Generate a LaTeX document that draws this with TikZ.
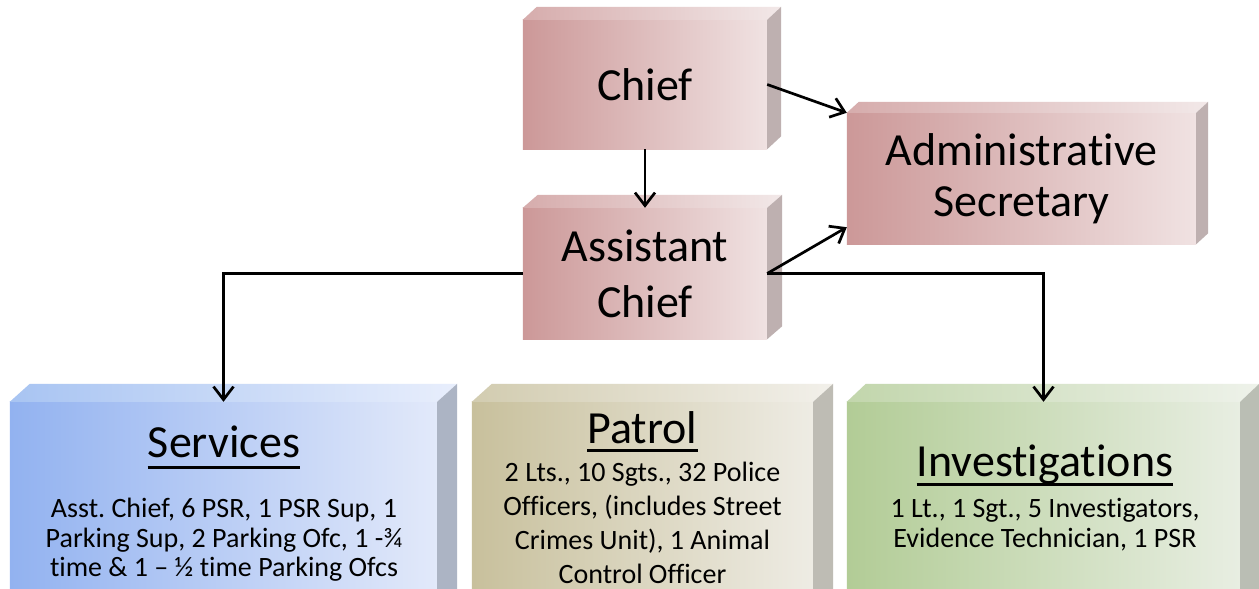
\documentclass[tikz,border=0pt]{standalone}
\usepackage{fontspec}
\setmainfont{Carlito}[Ligatures=NoCommon]
\usetikzlibrary{arrows.meta,backgrounds}
\frenchspacing

\definecolor{pinkL}{RGB}{204,152,152}
\definecolor{pinkR}{RGB}{240,226,226}
\definecolor{pinkS}{RGB}{190,176,176}
\definecolor{pinkTL}{RGB}{214,172,172}
\definecolor{pinkTR}{RGB}{242,232,232}
\definecolor{blueL}{RGB}{146,178,240}
\definecolor{blueR}{RGB}{226,233,250}
\definecolor{blueS}{RGB}{172,180,196}
\definecolor{blueTL}{RGB}{168,196,242}
\definecolor{blueTR}{RGB}{232,238,252}
\definecolor{tanL}{RGB}{200,192,156}
\definecolor{tanR}{RGB}{238,236,228}
\definecolor{tanS}{RGB}{190,188,180}
\definecolor{tanTL}{RGB}{210,204,176}
\definecolor{tanTR}{RGB}{242,240,234}
\definecolor{greenL}{RGB}{178,204,150}
\definecolor{greenR}{RGB}{232,238,226}
\definecolor{greenS}{RGB}{186,190,180}
\definecolor{greenTL}{RGB}{194,214,172}
\definecolor{greenTR}{RGB}{238,242,234}

% name, dx, dy, left, right, side, topleft, topright
\newcommand{\boxfaces}[8]{%
  \begin{pgfonlayer}{background}
    \shade[left color=#4, right color=#5] (#1.south west) rectangle (#1.north east);
    \shade[left color=#7, right color=#8] (#1.north west) -- ([shift={(#2,-#3)}]#1.north west)
      -- ([shift={(#2,-#3)}]#1.north east) -- (#1.north east) -- cycle;
    \fill[#6] (#1.north east) -- ([shift={(#2,-#3)}]#1.north east)
      -- ([shift={(#2,-#3)}]#1.south east) -- (#1.south east) -- cycle;
  \end{pgfonlayer}}

\tikzset{
  cube/.style={rectangle, inner sep=0pt, align=center},
  bigtext/.style={font=\fontsize{46}{56}\selectfont},
  conn/.style={line width=2.7pt, -{Straight Barb[length=13pt,width=20pt]}},
  ttl/.style={inner sep=0pt, anchor=base, font=\fontsize{46}{55}\selectfont},
  uline/.style={line width=3pt},
  bodytext/.style={inner sep=0pt, anchor=north, align=center}
}

\begin{document}
\begin{tikzpicture}[x=1pt, y=-1pt]
  \begin{pgfonlayer}{background}
    \fill[white] (0,0) rectangle (1259,589);
  \end{pgfonlayer}
  \useasboundingbox (0,0) rectangle (1259,589);

  % top boxes
  \node[cube, bigtext, minimum width=244pt, minimum height=129pt] (chief) at (645,84.5) {Chief};
  \node[cube, bigtext, minimum width=244pt, minimum height=131pt] (asst) at (645,273.5) {Assistant\\Chief};
  \node[cube, font=\fontsize{46}{51}\selectfont, minimum width=349pt, minimum height=131pt] (admin) at (1021.5,178.5) {Administrative\\Secretary};

  % bottom boxes
  \node[cube, minimum width=427pt, minimum height=230pt] (serv) at (223.5,517) {};
  \node[cube, minimum width=341pt, minimum height=230pt] (patrol) at (642.5,517) {};
  \node[cube, minimum width=393pt, minimum height=230pt] (inv) at (1043.5,517) {};

  \boxfaces{chief}{14}{13}{pinkL}{pinkR}{pinkS}{pinkTL}{pinkTR}
  \boxfaces{asst}{15}{13}{pinkL}{pinkR}{pinkS}{pinkTL}{pinkTR}
  \boxfaces{admin}{12}{11}{pinkL}{pinkR}{pinkS}{pinkTL}{pinkTR}
  \boxfaces{serv}{20}{18}{blueL}{blueR}{blueS}{blueTL}{blueTR}
  \boxfaces{patrol}{20}{18}{tanL}{tanR}{tanS}{tanTL}{tanTR}
  \boxfaces{inv}{19}{18}{greenL}{greenR}{greenS}{greenTL}{greenTR}

  % titles
  \node[ttl] (servT) at (224,457) {Services};
  \node[ttl] (patrolT) at (642.5,443) {Patrol};
  \node[ttl] (invT) at (1045,476) {Investigations};
  \draw[uline] ([yshift=-10pt]servT.base west) -- ([yshift=-10pt]servT.base east);
  \draw[uline] ([yshift=-7pt]patrolT.base west) -- ([yshift=-7pt]patrolT.base east);
  \draw[uline] ([yshift=-8pt]invT.base west) -- ([yshift=-8pt]invT.base east);

  % body texts
  \node[bodytext, font=\fontsize{28}{29.5}\selectfont] (servB) at (224,498)
    {Asst. Chief, 6 PSR, 1 PSR Sup, 1\\Parking Sup, 2 Parking Ofc, 1 -¾\\time \& 1 – ½ time Parking Ofcs};
  \node[bodytext, font=\fontsize{28}{34}\selectfont] (patrolB) at (642.5,462)
    {2 Lts., 10 Sgts., 32 Police\\Officers, (includes Street\\Crimes Unit), 1 Animal\\Control Officer};
  \node[bodytext, font=\fontsize{28}{30}\selectfont] (invB) at (1045,498)
    {1 Lt., 1 Sgt., 5 Investigators,\\Evidence Technician, 1 PSR};

  % connectors
  \draw[conn] (chief.south) -- (asst.north);
  \draw[conn] (chief.east) -- (admin.north west);
  \draw[conn] (asst.east) -- ([yshift=17pt]admin.south west);
  \draw[conn] (asst.west) -| (serv.north);
  \draw[conn] (asst.east) -| (inv.north);
\end{tikzpicture}
\end{document}
